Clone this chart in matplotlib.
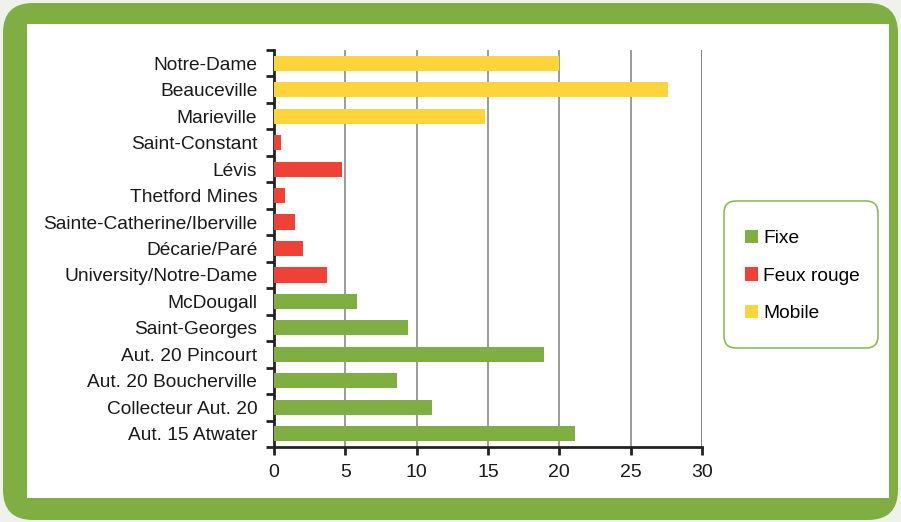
import matplotlib.pyplot as plt
from matplotlib.patches import FancyBboxPatch, Patch

# catégories, de bas en haut
sites = ['Aut. 15 Atwater', 'Collecteur Aut. 20', 'Aut. 20 Boucherville',
         'Aut. 20 Pincourt', 'Saint-Georges', 'McDougall',
         'University/Notre-Dame', 'Décarie/Paré', 'Sainte-Catherine/Iberville',
         'Thetford Mines', 'Lévis', 'Saint-Constant',
         'Marieville', 'Beauceville', 'Notre-Dame']
valeurs = [21.1, 11.1, 8.6, 18.9, 9.4, 5.8,
           3.7, 2.0, 1.5, 0.8, 4.8, 0.5,
           14.8, 27.6, 20.0]
types = ['Fixe'] * 6 + ['Feux rouge'] * 6 + ['Mobile'] * 3

COULEURS = {'Fixe': '#7fae42', 'Feux rouge': '#ef4136', 'Mobile': '#fdd53b'}
VERT = '#7fae42'

plt.rcParams['font.family'] = ['Liberation Sans', 'DejaVu Sans']

fig = plt.figure(figsize=(9.01, 5.22), dpi=100)
fig.patch.set_facecolor('#eef2ea')
t = fig.dpi_scale_trans

# cadre vert arrondi et zone blanche
fig.add_artist(FancyBboxPatch((0.03, 0.02), 8.95, 5.17,
                              boxstyle='round,pad=0,rounding_size=0.3',
                              transform=t, facecolor=VERT, edgecolor='none', zorder=-3))
fig.add_artist(FancyBboxPatch((0.27, 0.24), 8.62, 4.74,
                              boxstyle='square,pad=0',
                              transform=t, facecolor='white', edgecolor='none', zorder=-2))
# cadre de la légende
fig.add_artist(FancyBboxPatch((7.24, 1.74), 1.54, 1.47,
                              boxstyle='round,pad=0,rounding_size=0.12',
                              transform=t, facecolor='white', edgecolor='#8cbd55',
                              linewidth=1.2, zorder=-1))

ax = fig.add_axes([274 / 901, 75 / 522, 428 / 901, 397 / 522])
ax.set_facecolor('none')

y = list(range(len(sites)))
ax.barh(y, valeurs, height=0.57, color=[COULEURS[k] for k in types], zorder=3)

ax.set_xlim(0, 30)
ax.set_ylim(-0.5, len(sites) - 0.5)
ax.set_xticks([0, 5, 10, 15, 20, 25, 30])
ax.set_yticks(y)
ax.set_yticklabels(sites)
ax.set_yticks([i - 0.5 for i in range(len(sites) + 1)], minor=True)

ax.xaxis.grid(True, color='#8a8a8a', linewidth=1.2, zorder=0)
ax.yaxis.grid(False)
ax.axvline(30, color='#444444', linewidth=1.2, zorder=1)

for s in ['top', 'right']:
    ax.spines[s].set_visible(False)
ax.spines['left'].set_linewidth(2)
ax.spines['left'].set_color('#222222')
ax.spines['bottom'].set_linewidth(2)
ax.spines['bottom'].set_color('#222222')

ax.tick_params(axis='y', which='major', length=0, pad=12, labelsize=13.8, labelcolor='#1a1a1a')
ax.tick_params(axis='y', which='minor', length=6, width=2, color='#222222')
ax.tick_params(axis='x', length=6, width=2, color='#222222', labelsize=14, pad=6,
               labelcolor='#1a1a1a')

handles = [Patch(facecolor=COULEURS[k], edgecolor='none', label=k)
           for k in ['Fixe', 'Feux rouge', 'Mobile']]
fig.legend(handles=handles, loc='center left', bbox_to_anchor=(7.45, 2.46),
           bbox_transform=t, frameon=False, fontsize=13.8,
           handlelength=0.7, handleheight=0.7, handletextpad=0.25,
           labelspacing=1.05, borderpad=0, borderaxespad=0)

fig.savefig('out.png', dpi=100, facecolor=fig.get_facecolor())
